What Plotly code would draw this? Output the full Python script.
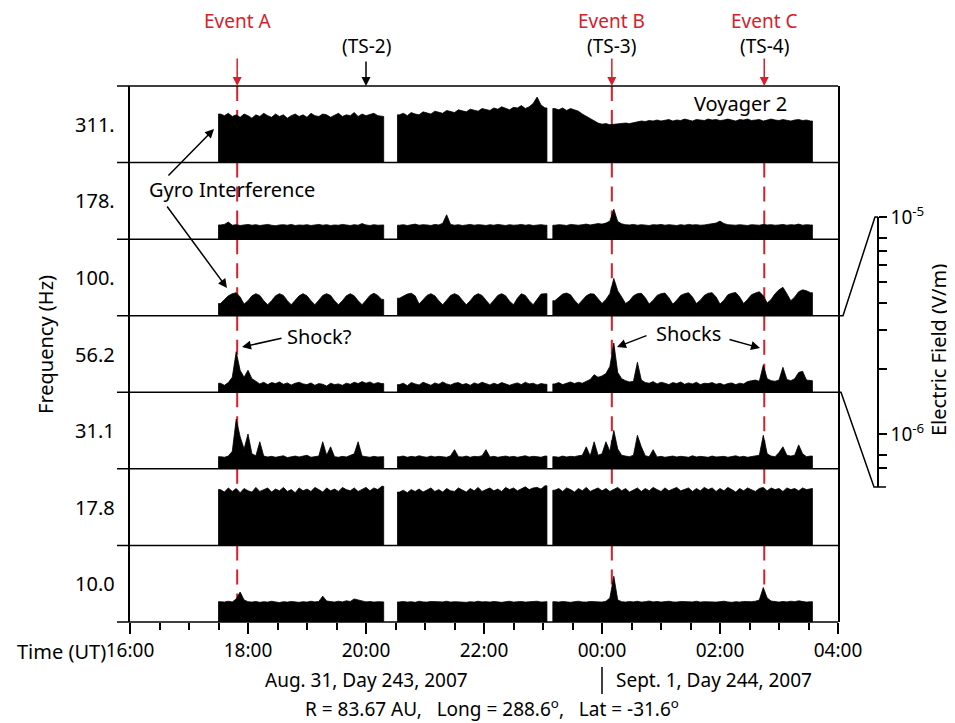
import plotly.graph_objects as go
from datetime import datetime, timedelta

# The page draws the figure 8 px in from the window's top-left corner, so the
# figure is 8 px smaller and every reference pixel position is shifted by 8 px.
OFF = 8
W, H = 955 - OFF, 723 - OFF
def px(x): return (x - OFF) / W
def py(y): return 1 - (y - OFF) / H

# ---------------- data (electric field, micro-V/m, 4-minute samples) ----------------
freq_labels = ["311.", "178.", "100.", "56.2", "31.1", "17.8", "10.0"]
seg_starts = ["2007-08-31 17:32", "2007-08-31 20:34", "2007-08-31 23:12"]
step_min = 4

f311_s1 = [3.5,3.3,3.6,3.2,3.4,3.1,3.5,3.3,3.0,3.4,3.2,3.6,3.3,3.1,3.5,3.2,3.4,3.0,3.3,3.5,
           3.2,3.4,3.1,3.6,3.3,3.2,3.5,3.4,3.1,3.3,3.6,3.2,3.4,3.3,3.7,3.2,3.5,3.3,3.4,3.6,3.3,3.2]
f311_s2 = [3.4,3.6,3.3,3.7,3.5,3.4,3.8,3.6,3.5,3.9,3.7,3.6,4.0,3.8,3.7,4.1,3.9,3.8,4.2,4.0,
           3.9,4.3,4.1,4.0,4.4,4.2,4.6,4.3,4.1,4.5,4.4,4.8,4.3,4.6,5.2,6.6,4.9,4.4]
f311_s3 = [4.3,4.1,4.4,4.0,4.3,4.1,3.9,3.5,3.2,2.9,2.7,2.5,2.4,2.45,2.35,2.4,2.4,2.45,2.5,2.45,2.55,
           2.6,2.7,2.65,2.75,2.7,2.8,2.7,2.75,2.85,2.7,2.8,2.75,2.9,2.8,2.7,2.85,2.8,2.75,2.9,2.8,
           2.85,2.75,2.8,2.9,2.8,2.7,2.85,2.8,2.9,2.75,2.8,2.85,2.7,2.8,2.9,2.8,2.75,2.85,2.8,2.7,
           2.8,2.85,2.75,2.8,2.7]

f178_s1 = [0.97,0.99,1.08,0.96,0.98,0.95,0.97,0.99,0.96,0.98,0.95,0.97,0.99,0.96,0.94,0.97,0.98,0.96,0.99,0.95,
           0.97,0.96,0.98,0.95,0.97,0.99,0.96,0.98,0.95,0.97,0.96,0.99,0.97,0.95,0.98,0.96,1.02,0.97,0.95,0.98,0.96,0.97]
f178_s2 = [0.96,0.98,0.95,0.97,1.0,0.96,0.98,0.97,0.95,0.99,0.97,1.03,1.42,0.99,0.96,0.98,0.95,0.97,0.99,0.96,
           0.98,0.97,0.95,0.98,0.96,0.99,0.97,0.95,0.98,0.96,0.97,0.99,0.96,0.98,0.95,0.97,0.98,0.96]
f178_s3 = [0.96,0.98,0.97,0.95,0.99,0.97,0.96,0.98,1.0,0.97,0.99,1.02,1.0,1.04,1.12,1.75,1.1,1.01,0.98,0.97,
           0.99,0.96,0.98,0.97,0.95,0.98,0.97,0.99,0.96,0.98,0.97,0.95,0.98,0.96,0.99,0.97,0.98,0.96,0.97,0.99,
           1.0,1.04,1.12,1.02,0.98,0.97,0.96,0.98,0.97,0.95,0.98,0.97,0.96,0.99,0.97,0.98,0.96,0.97,0.99,0.96,
           0.98,0.97,1.0,0.96,0.98,0.97]

f100_s1 = [0.9,1.05,1.2,1.3,1.35,1.15,0.88,1.0,1.2,1.3,1.22,1.0,0.86,1.0,1.2,1.3,1.22,1.0,0.86,1.02,
           1.2,1.3,1.2,1.0,0.86,1.02,1.22,1.3,1.22,1.0,0.86,1.0,1.2,1.3,1.2,1.0,0.86,1.02,1.22,1.32,1.22,1.05]
f100_s2 = [1.1,1.2,1.28,1.32,1.2,0.88,1.05,1.22,1.3,1.2,1.0,0.86,1.02,1.22,1.3,1.22,1.02,0.86,1.0,1.2,
           1.3,1.22,1.02,0.86,1.02,1.22,1.3,1.2,0.98,0.86,1.1,1.3,1.22,1.0,0.86,1.05,1.28,1.3]
f100_s3 = [1.0,1.15,1.28,1.33,1.25,1.02,0.87, 1.02,1.2,1.3,1.28,1.08,0.9, 1.05,1.3,2.3,1.45,1.15,0.9,
           1.0,1.2,1.3,1.32,1.12,0.88, 1.02,1.22,1.3,1.33,1.12,0.88, 1.02,1.22,1.3,1.35,1.15,0.9,
           1.02,1.22,1.32,1.35,1.15,0.88, 1.02,1.25,1.32,1.36,1.15,0.9, 1.05,1.25,1.33,1.4,1.2,0.92,
           1.05,1.3,1.5,1.65,1.3,1.0, 1.15,1.4,1.5,1.45,1.35]

f56_s1 = [0.8,0.74,0.82,1.0,2.6,1.3,1.0,1.3,0.95,0.85,0.78,0.83,0.76,0.82,0.79,0.84,0.77,0.81,0.75,0.8,
          0.83,0.78,0.76,0.81,0.74,0.79,0.77,0.72,0.8,0.76,0.78,0.74,0.8,0.77,0.83,0.79,0.85,0.8,0.84,0.78,0.82,0.79]
f56_s2 = [0.76,0.8,0.73,0.82,0.78,0.75,0.83,0.79,0.74,0.81,0.77,0.84,0.78,0.75,0.8,0.82,0.76,0.79,0.74,0.81,
          0.77,0.83,0.78,0.75,0.8,0.76,0.82,0.79,0.74,0.78,0.81,0.76,0.83,0.78,0.8,0.75,0.79,0.77]
f56_s3 = [0.78,0.82,0.76,0.8,0.84,0.79,0.83,0.8,0.86,0.92,1.1,1.0,1.05,1.15,1.5,3.6,1.2,0.95,0.88,0.84,
          0.86,1.75,0.9,0.82,0.8,0.85,0.78,0.83,0.8,0.76,0.82,0.79,0.84,0.77,0.81,0.78,0.83,0.76,0.8,0.79,
          0.82,0.77,0.8,0.75,0.79,0.81,0.76,0.8,0.78,0.85,0.88,0.9,0.86,1.57,0.95,0.88,0.86,0.9,1.45,0.92,
          0.88,0.95,1.2,1.25,0.9,0.88]

f31_s1 = [0.9,0.88,0.92,1.1,3.66,1.9,1.2,2.1,1.0,0.93,1.57,0.92,0.89,0.91,0.88,0.9,0.93,0.87,0.9,0.92,
          0.89,0.91,0.95,0.88,0.9,0.92,1.57,0.95,1.3,0.9,0.88,0.91,0.89,0.93,1.0,1.57,0.92,0.9,0.88,0.91,0.89,0.9]
f31_s2 = [0.9,0.92,0.88,0.91,0.89,0.93,0.9,0.88,0.92,0.89,0.91,0.9,0.88,0.93,1.17,0.9,0.89,0.92,0.88,0.91,
          0.9,0.93,1.17,0.89,0.91,0.88,0.9,0.92,0.89,0.91,0.88,0.9,0.93,0.89,0.91,0.9,0.88,0.92]
f31_s3 = [0.9,0.88,0.92,0.89,0.91,0.9,0.93,0.95,1.3,0.92,1.57,0.95,1.0,1.57,1.1,2.4,1.2,0.95,0.92,0.9,
          0.95,2.0,1.3,0.93,0.9,1.17,0.89,0.91,0.88,0.9,0.92,0.89,0.91,0.9,0.88,0.93,0.89,0.91,0.9,0.88,
          0.92,0.89,0.9,0.91,0.88,0.9,0.93,0.89,0.91,0.88,0.9,0.92,0.95,2.0,1.0,0.92,0.9,1.05,1.3,0.95,
          0.92,0.95,1.4,1.0,0.9,0.92]

f17_s1 = [4.6,4.2,4.9,4.3,4.8,4.1,4.8,4.4,4.2,5.0,4.3,4.6,4.9,4.2,4.7,4.4,5.0,4.3,4.6,4.1,
          4.9,4.4,4.7,4.3,5.0,4.6,4.2,4.9,4.4,4.7,4.3,5.0,4.6,4.4,4.9,4.3,4.7,5.0,4.4,4.9,4.6,5.2]
f17_s2 = [4.2,4.5,4.1,4.6,4.3,4.7,4.2,4.5,4.9,4.3,4.6,4.2,4.8,4.4,4.3,4.9,4.6,4.2,4.8,4.4,
          5.0,4.3,4.6,4.9,4.4,4.7,4.3,5.0,4.6,4.9,4.4,4.7,5.1,4.6,4.9,5.0,4.7,5.3]
f17_s3 = [4.5,4.8,4.3,4.9,4.6,4.2,4.8,4.4,5.0,4.3,4.6,4.9,4.4,4.8,4.3,4.6,5.0,4.4,4.8,4.2,
          4.6,4.9,4.3,4.8,4.4,5.0,4.6,4.3,4.9,4.4,4.7,5.0,4.4,4.6,4.9,4.3,4.8,4.4,5.0,4.6,
          4.9,4.3,4.8,4.4,5.0,4.6,4.2,4.8,4.4,4.9,4.6,4.3,4.8,5.0,4.4,4.9,4.6,4.8,4.3,4.9,
          4.6,4.8,4.4,4.9,4.6,4.8]

f10_s1 = [1.22,1.2,1.24,1.21,1.35,1.75,1.3,1.22,1.2,1.23,1.19,1.22,1.2,1.24,1.21,1.18,1.22,1.2,1.23,1.21,
          1.19,1.22,1.2,1.24,1.21,1.23,1.5,1.25,1.22,1.2,1.24,1.21,1.26,1.23,1.35,1.3,1.24,1.21,1.23,1.2,1.22,1.21]
f10_s2 = [1.21,1.23,1.2,1.22,1.19,1.24,1.21,1.2,1.23,1.22,1.19,1.21,1.24,1.2,1.22,1.21,1.23,1.19,1.22,1.2,
          1.24,1.21,1.22,1.2,1.23,1.21,1.19,1.22,1.24,1.2,1.21,1.23,1.2,1.22,1.21,1.24,1.2,1.22]
f10_s3 = [1.22,1.2,1.23,1.21,1.19,1.22,1.24,1.21,1.2,1.23,1.21,1.22,1.2,1.24,1.4,3.15,1.3,1.22,1.2,1.23,
          1.21,1.24,1.2,1.22,1.25,1.21,1.23,1.2,1.22,1.24,1.21,1.2,1.23,1.22,1.19,1.21,1.24,1.2,1.22,1.21,
          1.23,1.2,1.22,1.24,1.21,1.19,1.22,1.2,1.23,1.21,1.22,1.24,1.3,2.07,1.4,1.25,1.22,1.2,1.23,1.21,
          1.24,1.22,1.26,1.23,1.2,1.22]

panel_data = [(f311_s1, f311_s2, f311_s3), (f178_s1, f178_s2, f178_s3), (f100_s1, f100_s2, f100_s3),
              (f56_s1, f56_s2, f56_s3), (f31_s1, f31_s2, f31_s3), (f17_s1, f17_s2, f17_s3),
              (f10_s1, f10_s2, f10_s3)]

events = {"Event A": "2007-08-31 17:49", "Event B": "2007-09-01 00:10", "Event C": "2007-09-01 02:45"}
ts_labels = {"(TS-2)": "2007-08-31 20:00", "(TS-3)": "2007-09-01 00:10", "(TS-4)": "2007-09-01 02:45"}
x_range = ["2007-08-31 16:00", "2007-09-01 04:00"]
e_range = [-6.244, -5.0]     # log10 V/m of each panel and of the scale bar
floor_val = 1e-7             # fill floor (below the visible range)
scale_ticks = [1e-5, 8e-6, 7e-6, 6e-6, 5e-6, 4e-6, 3e-6, 2e-6, 1e-6, 8e-7, 7e-7]
scale_text = ["10<sup>-5</sup>", "", "", "", "", "", "", "", "10<sup>-6</sup>", "", ""]

# ---------------- figure ----------------
RED = "#d7202a"
FONT = "Noto Sans"
top, bot = 86.0, 622.0
ph = (bot - top) / 7
bounds = [top + ph * k for k in range(8)]
half = timedelta(minutes=step_min / 2)

fig = go.Figure()
layout = {}
shapes = []
annotations = []

for k, segs in enumerate(panel_data, start=1):
    xs, ys = [], []
    for start, seg in zip(seg_starts, segs):
        t0 = datetime.strptime(start, "%Y-%m-%d %H:%M")
        ts = [t0 + timedelta(minutes=step_min * i) for i in range(len(seg))]
        vals = [v * 1e-6 for v in seg]
        xs += [ts[0] - half, ts[0] - half] + ts + [ts[-1] + half, ts[-1] + half, None]
        ys += [floor_val, vals[0]] + vals + [vals[-1], floor_val, None]
    sfx = "" if k == 1 else str(k)
    fig.add_trace(go.Scatter(x=xs, y=ys, mode="lines", fill="toself", fillcolor="black",
                             line=dict(color="black", width=0.8), connectgaps=False,
                             xaxis="x" + sfx, yaxis="y" + sfx, hoverinfo="skip", showlegend=False))
    xa = dict(domain=[px(130), px(838)], anchor="y" + sfx, type="date", range=x_range,
              showgrid=False, zeroline=False, showline=False, showticklabels=False, ticks="")
    if k == 7:
        xa.update(showticklabels=True, ticks="outside", ticklen=11, tickwidth=1.5, tickcolor="black",
                  dtick=2 * 3600 * 1000, tick0="2007-08-31 16:00", tickformat="%H:%M",
                  tickfont=dict(family=FONT, size=19, color="black"),
                  minor=dict(dtick=30 * 60 * 1000, ticks="outside", ticklen=7, tickwidth=1.5,
                             tickcolor="black", showgrid=False))
    layout["xaxis" + sfx] = xa
    layout["yaxis" + sfx] = dict(domain=[py(bounds[k]), py(bounds[k - 1])], anchor="x" + sfx,
                                 type="log", range=e_range, showgrid=False, zeroline=False,
                                 showticklabels=False, ticks="", showline=True, mirror=True,
                                 linecolor="black", linewidth=1.5)
    annotations.append(dict(text=freq_labels[k - 1], x=px(117), xref="paper", xanchor="right",
                            y=0.5, yref=f"y{sfx} domain", yanchor="middle", showarrow=False,
                            font=dict(family=FONT, size=20, color="black")))
    for name, t in events.items():
        if name == "Event C" and k == 1:
            continue
        shapes.append(dict(type="line", xref="x" + sfx, yref=f"y{sfx} domain", x0=t, x1=t,
                           y0=1, y1=0, layer="below",
                           line=dict(color=RED, width=2, dash="15px,9px")))

for b in bounds:
    shapes.append(dict(type="line", xref="paper", yref="paper", x0=px(117), x1=px(838),
                       y0=py(b), y1=py(b), line=dict(color="black", width=1.5), layer="above"))

# scale bar axis
fig.add_trace(go.Scatter(x=[0], y=[1e-6], xaxis="x8", yaxis="y8", mode="markers",
                         marker=dict(opacity=0), hoverinfo="skip", showlegend=False))
layout["xaxis8"] = dict(domain=[0.995, 1.0], anchor="y8", visible=False)
layout["yaxis8"] = dict(domain=[py(487), py(217)], anchor="free", position=px(878), side="right",
                        type="log", range=e_range, showgrid=False, zeroline=False, automargin=False,
                        showline=True, linecolor="black", linewidth=1.5,
                        ticks="outside", ticklen=8, tickwidth=1.5, tickcolor="black",
                        tickmode="array", tickvals=scale_ticks, ticktext=scale_text,
                        tickfont=dict(family=FONT, size=19, color="black"))
p_top, p_bot = bounds[3], bounds[4]
shapes.append(dict(type="path", xref="paper", yref="paper", layer="above",
                   path=f"M {px(838)},{py(p_top)} L {px(843)},{py(p_top)} L {px(875)},{py(217)} L {px(878)},{py(217)}",
                   line=dict(color="black", width=1.5)))
shapes.append(dict(type="path", xref="paper", yref="paper", layer="above",
                   path=f"M {px(838)},{py(p_bot)} L {px(841)},{py(p_bot)} L {px(874)},{py(487)} L {px(886)},{py(487)}",
                   line=dict(color="black", width=1.5)))

shapes.append(dict(type="line", xref="x7", yref="paper", x0="2007-09-01 00:00", x1="2007-09-01 00:00",
                   y0=py(694), y1=py(667), line=dict(color="black", width=1.5)))

def txt(text, x, y, size=20, color="black", xanchor="center", angle=0):
    annotations.append(dict(text=text, x=px(x), y=py(y), xref="paper", yref="paper",
                            xanchor=xanchor, yanchor="middle", showarrow=False, textangle=angle,
                            font=dict(family=FONT, size=size, color=color)))

def arrow(x, y, ax, ay, color="black", xref="paper", width=1.5):
    annotations.append(dict(text="", x=(x if xref != "paper" else px(x)), y=py(y), xref=xref, yref="paper",
                            showarrow=True, ax=ax, ay=ay, arrowcolor=color, arrowwidth=width,
                            arrowhead=2, arrowsize=1.2, standoff=0))

for name, t in events.items():
    annotations.append(dict(text=name, x=t, xref="x", y=py(21), yref="paper", showarrow=False,
                            yanchor="middle", font=dict(family=FONT, size=19, color=RED)))
    arrow(t, 86, 0, -29, color=RED, xref="x")
for name, t in ts_labels.items():
    annotations.append(dict(text=name, x=t, xref="x", y=py(46), yref="paper", showarrow=False,
                            yanchor="middle", font=dict(family=FONT, size=19, color="black")))
arrow(ts_labels["(TS-2)"], 86, 0, -26, color="black", xref="x")

txt("Voyager 2", 740, 103, size=20)
txt("Gyro Interference", 232, 189, size=20)
arrow(214, 129, -47, 48)
arrow(227, 288, -61, -83)
txt("Shock?", 319, 336, size=20)
arrow(242, 347, 41, -9)
txt("Shocks", 688, 333, size=20)
arrow(617, 347, 31, -12)
arrow(760, 348, -32, -9)

txt("Frequency (Hz)", 45, 345, size=20, angle=-90)
txt("Electric Field (V/m)", 938, 350, size=20, angle=-90)
txt("Time (UT)", 108, 651, size=20, xanchor="right")
txt("Aug. 31, Day 243, 2007", 366, 680, size=19)
txt("Sept. 1, Day 244, 2007", 614, 680, size=19, xanchor="left")
txt("R = 83.67 AU,\u00a0\u00a0 Long = 288.6<sup>o</sup>,\u00a0\u00a0 Lat = -31.6<sup>o</sup>", 492, 708, size=19)

fig.update_layout(width=W, height=H, margin=dict(l=0, r=0, t=0, b=0, pad=0, autoexpand=False),
                  paper_bgcolor="white", plot_bgcolor="rgba(0,0,0,0)",
                  showlegend=False, shapes=shapes, annotations=annotations,
                  font=dict(family=FONT, color="black"), **layout)

fig.write_html("out.html")
